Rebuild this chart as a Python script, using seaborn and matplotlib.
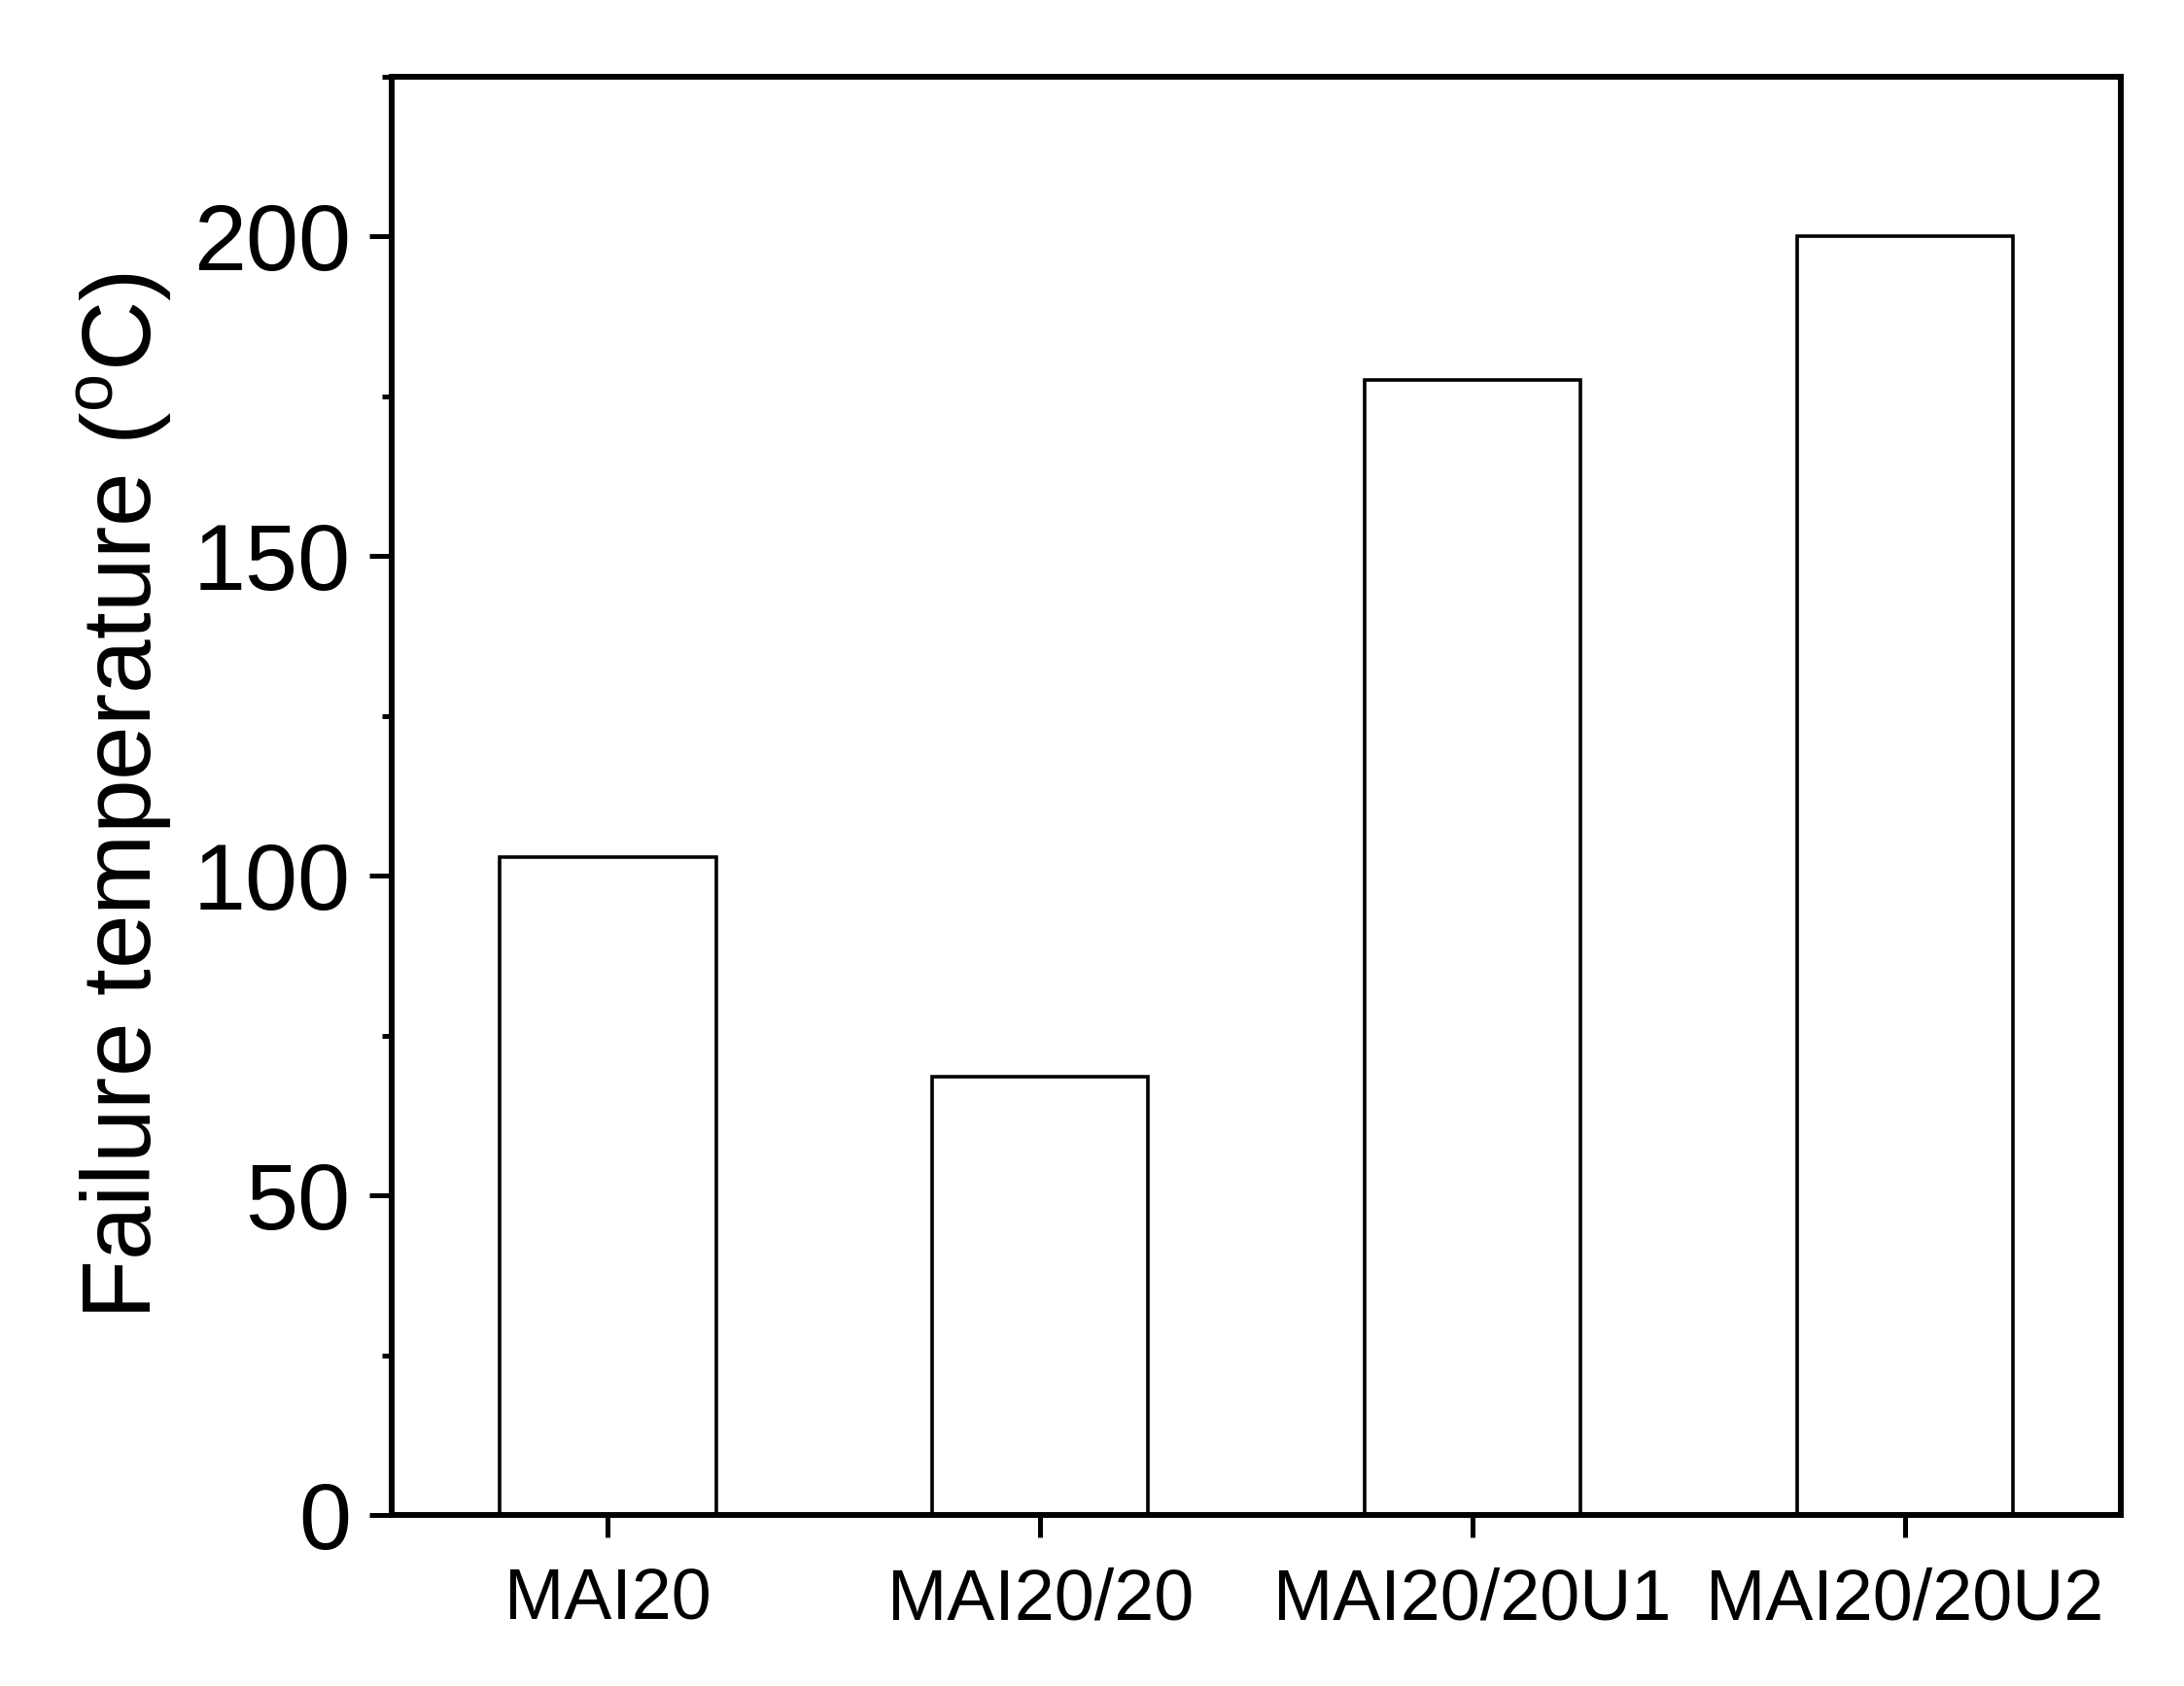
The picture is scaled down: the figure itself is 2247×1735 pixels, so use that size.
import numpy as np
import pandas as pd
import matplotlib
matplotlib.use("Agg")
import matplotlib.pyplot as plt
import seaborn as sns
from matplotlib.ticker import MultipleLocator

# datos
muestras = ["MAI20", "MAI20/20", "MAI20/20U1", "MAI20/20U2"]
temperatura = [103, 68.5, 177.5, 200]

df = pd.DataFrame({"muestra": muestras, "temp": temperatura})

sns.set_style("ticks")
plt.rcParams["font.family"] = ["Liberation Sans", "DejaVu Sans"]
plt.rcParams["mathtext.fontset"] = "custom"
plt.rcParams["mathtext.rm"] = "Liberation Sans"
plt.rcParams["text.color"] = "black"
plt.rcParams["xtick.color"] = "black"
plt.rcParams["ytick.color"] = "black"
plt.rcParams["axes.labelcolor"] = "black"

fig = plt.figure(figsize=(22.47, 17.35), dpi=100)
ax = fig.add_axes([0.1794, 0.1014, 0.9711 - 0.1794, 0.9545 - 0.1014])

sns.barplot(data=df, x="muestra", y="temp", ax=ax, color="white",
            edgecolor="black", linewidth=2.6, width=0.5, saturation=1)

ax.set_xlim(-0.5, 3.5)
ax.set_ylim(0, 225)
ax.yaxis.set_major_locator(MultipleLocator(50))
ax.yaxis.set_minor_locator(MultipleLocator(25))

for s in ax.spines.values():
    s.set_visible(True)
    s.set_linewidth(4.3)
    s.set_color("black")

ax.tick_params(axis="both", which="major", direction="out", length=16.5,
               width=3.6, color="black", labelcolor="black")
ax.tick_params(axis="y", which="minor", direction="out", length=7.5,
               width=3.6, color="black")
ax.tick_params(axis="y", which="major", labelsize=70, pad=14)
ax.tick_params(axis="x", which="major", labelsize=53, pad=22)

ax.set_xlabel("")
ax.set_ylabel("Failure temperature ($^\\mathregular{o}$C)", fontsize=72,
              labelpad=14, color="black")

plt.savefig("out.png", dpi=100)
